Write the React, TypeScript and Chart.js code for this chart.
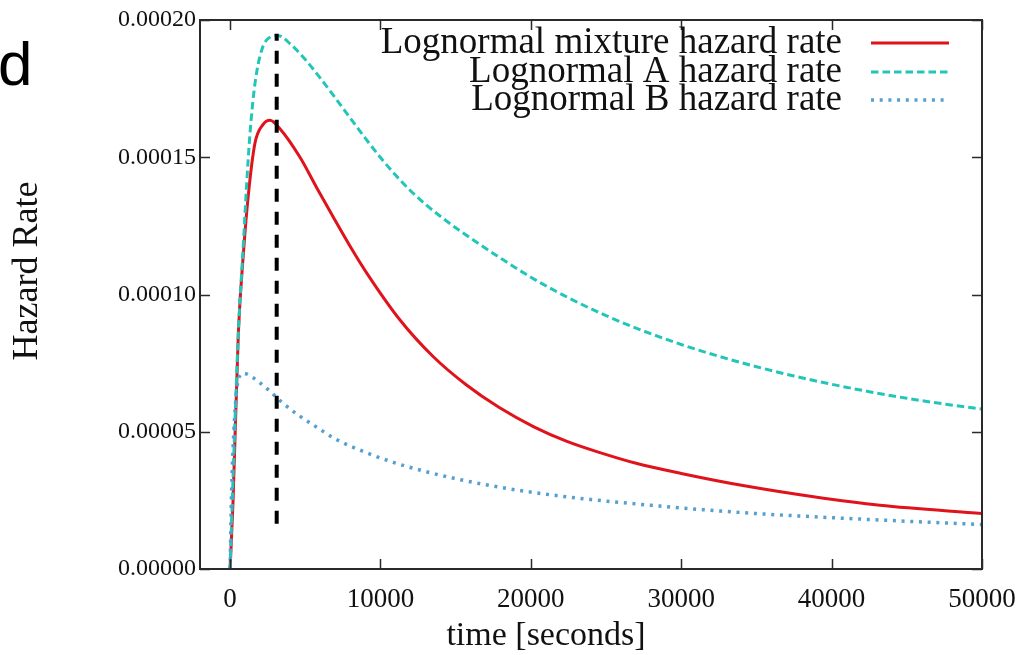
import React, { useEffect, useRef } from "react";
import { Chart, registerables } from "chart.js";

Chart.register(...registerables);

// ---- data (hazard values stored in units of 1e-6) ----
const mixtureTime = [0, 200, 550, 900, 1200, 1650, 2200, 2650, 3300, 4650, 5750, 6850, 8000, 9100, 11300, 13500, 15700, 17900, 20200, 22400, 24600, 27000, 30000, 34300, 38800, 43200, 50000];
const mixtureRate = [0, 25, 86, 116, 135.5, 155, 162, 163.5, 160.5, 150, 139, 128.3, 117.4, 107.7, 90.7, 77.4, 67.1, 58.8, 51.8, 46.5, 42.4, 38.5, 34.8, 30.2, 26.3, 23.2, 20.2];

const lognormalATime = [0, 220, 550, 900, 1100, 1330, 1660, 2100, 2650, 3200, 4000, 5000, 6000, 7000, 8000, 9000, 10000, 11000, 12000, 13000, 14000, 15000, 16000, 18000, 20000, 22500, 25000, 27500, 30000, 32500, 35000, 37500, 40000, 42500, 45000, 47500, 50000];
const lognormalARate = [0, 37, 86, 120, 140, 159, 177, 189, 193.7, 194.3, 191.3, 185.6, 178.8, 171.6, 164.2, 156.9, 149.9, 143.5, 137.8, 132.8, 128.4, 124.3, 120.5, 113.2, 106.3, 98.8, 92.3, 86.7, 81.8, 77.5, 73.7, 70.3, 67.3, 64.6, 62.2, 60.1, 58.3];

const lognormalBTime = [0, 100, 300, 550, 900, 1500, 2500, 3500, 4500, 5500, 7000, 9000, 11000, 13000, 15000, 17500, 20000, 23000, 27000, 31000, 35000, 40000, 45000, 50000];
const lognormalBRate = [0, 28, 55, 69, 71.3, 69.8, 65.5, 60.5, 56.2, 52.6, 47.4, 42.5, 38.6, 35.5, 32.9, 30.2, 28.0, 25.9, 23.7, 21.8, 20.2, 18.7, 17.4, 16.2];

const markerTime = [3100, 3100];
const markerRate = [16.5, 195];

const seriesLabels = ["Lognormal mixture hazard rate", "Lognormal A hazard rate", "Lognormal B hazard rate"];

const xTickValues = [0, 10000, 20000, 30000, 40000, 50000];
const yTickValues = [0, 0.00005, 0.0001, 0.00015, 0.0002];

const xTitle = "time [seconds]";
const yTitle = "Hazard Rate";
const panelLetter = "d";

const toPoints = (ts: number[], vs: number[]) => ts.map((t, i) => ({ x: t, y: vs[i] * 1e-6 }));

const SERIF = "'Liberation Serif', 'Times New Roman', serif";

const framePlugin = {
  id: "gnuFrame",
  afterDatasetsDraw(chart: any) {
    const { ctx, chartArea } = chart;
    const { left, right, top, bottom } = chartArea;
    const xs = chart.scales.x;
    const ys = chart.scales.y;
    ctx.save();
    ctx.strokeStyle = "#2a2a2a";
    ctx.lineWidth = 2;
    ctx.setLineDash([]);
    ctx.strokeRect(left, top, right - left, bottom - top);
    ctx.lineWidth = 1.5;
    const tl = 10;
    ctx.beginPath();
    xTickValues.forEach((v) => {
      const px = Math.round(xs.getPixelForValue(v)) + 0.5;
      ctx.moveTo(px, bottom);
      ctx.lineTo(px, bottom - tl);
      ctx.moveTo(px, top);
      ctx.lineTo(px, top + tl);
    });
    yTickValues.forEach((v) => {
      const py = Math.round(ys.getPixelForValue(v)) + 0.5;
      ctx.moveTo(left, py);
      ctx.lineTo(left + tl, py);
      ctx.moveTo(right, py);
      ctx.lineTo(right - tl, py);
    });
    ctx.stroke();
    ctx.restore();
  },
};

const legendPlugin = {
  id: "gnuKey",
  afterDatasetsDraw(chart: any) {
    const { ctx } = chart;
    const textRight = 842;
    const lineX0 = 871;
    const lineX1 = 949;
    const rowY = [43, 72, 100];
    ctx.save();
    ctx.font = `37px ${SERIF}`;
    ctx.textAlign = "right";
    ctx.textBaseline = "alphabetic";
    ctx.fillStyle = "#111";
    chart.data.datasets
      .filter((d: any) => d.label && seriesLabels.includes(d.label))
      .forEach((d: any, i: number) => {
        const y = rowY[i];
        ctx.fillText(d.label, textRight, y + 10);
        ctx.strokeStyle = d.borderColor;
        ctx.lineWidth = d.borderWidth;
        ctx.setLineDash(d.borderDash || []);
        ctx.beginPath();
        ctx.moveTo(lineX0, y);
        ctx.lineTo(lineX1, y);
        ctx.stroke();
      });
    ctx.restore();
  },
};

const titlesPlugin = {
  id: "gnuTitles",
  afterDraw(chart: any) {
    const { ctx } = chart;
    ctx.save();
    ctx.fillStyle = "#111";
    ctx.font = `34px ${SERIF}`;
    ctx.textAlign = "center";
    ctx.textBaseline = "middle";
    ctx.fillText(xTitle, 546, 636);
    ctx.translate(28, 271);
    ctx.rotate(-Math.PI / 2);
    ctx.font = `36px ${SERIF}`;
    ctx.fillText(yTitle, 0, 0);
    ctx.restore();
    ctx.save();
    ctx.fillStyle = "#000";
    ctx.font = "62px 'Liberation Sans', Arial, sans-serif";
    ctx.textAlign = "left";
    ctx.textBaseline = "alphabetic";
    ctx.fillText(panelLetter, -2, 85);
    ctx.restore();
  },
};

export default function App() {
  const canvasRef = useRef<HTMLCanvasElement | null>(null);

  useEffect(() => {
    document.body.style.margin = "0";
    const canvas = canvasRef.current;
    if (!canvas) return;
    const chart = new Chart(canvas, {
      type: "line",
      data: {
        datasets: [
          {
            label: "marker",
            data: toPoints(markerTime, markerRate),
            borderColor: "#000000",
            borderWidth: 4,
            borderDash: [13, 10],
            pointRadius: 0,
            order: 0,
          },
          {
            label: seriesLabels[0],
            data: toPoints(mixtureTime, mixtureRate),
            borderColor: "#e0131c",
            borderWidth: 3,
            pointRadius: 0,
            cubicInterpolationMode: "monotone",
            order: 3,
          },
          {
            label: seriesLabels[1],
            data: toPoints(lognormalATime, lognormalARate),
            borderColor: "#22c6b8",
            borderWidth: 3,
            borderDash: [7.5, 4],
            pointRadius: 0,
            cubicInterpolationMode: "monotone",
            order: 2,
          },
          {
            label: seriesLabels[2],
            data: toPoints(lognormalBTime, lognormalBRate),
            borderColor: "#55a0cf",
            borderWidth: 3.5,
            borderDash: [3, 5.7],
            pointRadius: 0,
            cubicInterpolationMode: "monotone",
            order: 1,
          },
        ],
      },
      options: {
        animation: false,
        responsive: false,
        devicePixelRatio: 1,
        layout: { padding: { top: 20, right: 39, bottom: 0, left: 0 } },
        plugins: {
          legend: { display: false },
          tooltip: { enabled: false },
          title: { display: false },
        },
        scales: {
          x: {
            type: "linear",
            min: -2000,
            max: 50000,
            grid: { display: false, drawTicks: false },
            border: { display: false },
            afterBuildTicks: (s: any) => {
              s.ticks = xTickValues.map((v) => ({ value: v }));
            },
            afterFit: (s: any) => {
              s.height = 86;
              s.paddingLeft = 0;
              s.paddingRight = 0;
            },
            ticks: {
              padding: 15,
              maxRotation: 0,
              autoSkip: false,
              color: "#111",
              font: { family: SERIF, size: 27 },
              callback: (v: any) => String(v),
            },
          },
          y: {
            type: "linear",
            min: 0,
            max: 0.0002,
            grid: { display: false, drawTicks: false },
            border: { display: false },
            afterBuildTicks: (s: any) => {
              s.ticks = yTickValues.map((v) => ({ value: v }));
            },
            afterFit: (s: any) => {
              s.width = 200;
              s.paddingTop = 0;
              s.paddingBottom = 0;
            },
            ticks: {
              padding: 4,
              autoSkip: false,
              color: "#111",
              font: { family: SERIF, size: 24 },
              callback: (v: any) => Number(v).toFixed(5),
            },
          },
        },
      },
      plugins: [framePlugin, legendPlugin, titlesPlugin],
    } as any);
    return () => chart.destroy();
  }, []);

  return (
    <div style={{ width: 1021, height: 655, background: "#fff" }}>
      <canvas ref={canvasRef} width={1021} height={655} style={{ display: "block" }} />
    </div>
  );
}
